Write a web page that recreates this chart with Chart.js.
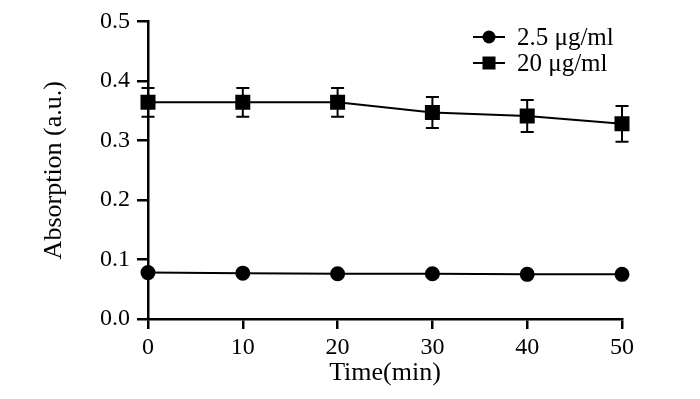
<!DOCTYPE html>
<html>
<head>
<meta charset="utf-8">
<script src="https://cdn.jsdelivr.net/npm/chart.js@4/dist/chart.umd.min.js"></script>
<style>
html,body{margin:0;padding:0;background:#fff;}
#wrap{width:700px;height:399px;position:relative;}
</style>
</head>
<body>
<div id="wrap"><canvas id="c" width="700" height="399"></canvas></div>
<script>
const times = [0, 10, 20, 30, 40, 50];
const seriesLabels = ['2.5 μg/ml', '20 μg/ml'];
const lowValues = [0.078, 0.077, 0.076, 0.076, 0.075, 0.075];
const highValues = [0.364, 0.364, 0.364, 0.347, 0.341, 0.328];
const highErrors = [0.024, 0.024, 0.024, 0.026, 0.027, 0.030];
const lowErrors = [0, 0, 0, 0, 0, 0];
const yTicks = [0.0, 0.1, 0.2, 0.3, 0.4, 0.5];
const xTicks = [0, 10, 20, 30, 40, 50];

const FONT = "'Liberation Serif', 'Times New Roman', serif";

const errorBarPlugin = {
  id: 'errorBars',
  afterDatasetsDraw(chart) {
    const ctx = chart.ctx;
    const xs = chart.scales.x, ys = chart.scales.y;
    chart.data.datasets.forEach(ds => {
      const errs = ds.errors;
      if (!errs) return;
      ctx.save();
      ctx.strokeStyle = '#000';
      ctx.lineWidth = 2;
      ds.data.forEach((pt, i) => {
        const e = errs[i];
        if (!e) return;
        const x = xs.getPixelForValue(pt.x);
        const yt = ys.getPixelForValue(pt.y + e);
        const yb = ys.getPixelForValue(pt.y - e);
        ctx.beginPath();
        ctx.moveTo(x, yt); ctx.lineTo(x, yb);
        ctx.moveTo(x - 6.5, yt); ctx.lineTo(x + 6.5, yt);
        ctx.moveTo(x - 6.5, yb); ctx.lineTo(x + 6.5, yb);
        ctx.stroke();
      });
      ctx.restore();
    });
  }
};

const legendPlugin = {
  id: 'customLegend',
  afterDraw(chart) {
    const ctx = chart.ctx;
    const rows = [37, 63];
    chart.data.datasets.forEach((ds, i) => {
      const y = rows[i];
      ctx.save();
      ctx.strokeStyle = '#000';
      ctx.lineWidth = 2;
      ctx.beginPath();
      ctx.moveTo(473, y); ctx.lineTo(505, y);
      ctx.stroke();
      ctx.fillStyle = '#000';
      if (ds.pointStyle === 'rect') {
        ctx.fillRect(489 - 6.5, y - 6.5, 13, 13);
      } else {
        ctx.beginPath();
        ctx.arc(489, y, 6.5, 0, Math.PI * 2);
        ctx.fill();
      }
      ctx.font = '25px ' + FONT;
      ctx.textBaseline = 'middle';
      ctx.textAlign = 'left';
      ctx.fillText(ds.label, 517, y + 1);
      ctx.restore();
    });
  }
};

new Chart(document.getElementById('c'), {
  type: 'line',
  data: {
    datasets: [
      {
        label: seriesLabels[0],
        data: times.map((t, i) => ({x: t, y: lowValues[i]})),
        errors: lowErrors,
        borderColor: '#000',
        backgroundColor: '#000',
        borderWidth: 2,
        pointStyle: 'circle',
        pointRadius: 6.5,
        pointHoverRadius: 6.5,
        tension: 0,
        clip: false
      },
      {
        label: seriesLabels[1],
        data: times.map((t, i) => ({x: t, y: highValues[i]})),
        errors: highErrors,
        borderColor: '#000',
        backgroundColor: '#000',
        borderWidth: 2,
        pointStyle: 'rect',
        pointRadius: 9.2,
        pointHoverRadius: 9.2,
        tension: 0,
        clip: false
      }
    ]
  },
  options: {
    responsive: false,
    animation: false,
    events: [],
    layout: {padding: {left: 0, top: 18, right: 78, bottom: 0}},
    plugins: {legend: {display: false}, tooltip: {enabled: false}},
    scales: {
      x: {
        type: 'linear',
        min: 0, max: 50,
        afterFit(s) { s.height = 80; },
        afterBuildTicks(s) { s.ticks = xTicks.map(v => ({value: v})); },
        ticks: {color: '#000', font: {family: FONT, size: 24}, padding: 4, maxRotation: 0},
        grid: {drawOnChartArea: false, drawTicks: true, tickLength: 10, color: '#000', lineWidth: 2.5},
        border: {color: '#000', width: 2.5},
        title: {display: true, text: 'Time(min)', color: '#000', font: {family: FONT, size: 26}, padding: {top: 0, bottom: 10}}
      },
      y: {
        type: 'linear',
        min: 0, max: 0.5,
        afterFit(s) { s.width = 148; },
        afterBuildTicks(s) { s.ticks = yTicks.map(v => ({value: v})); },
        ticks: {color: '#000', font: {family: FONT, size: 24}, padding: 7, callback: v => v.toFixed(1)},
        grid: {drawOnChartArea: false, drawTicks: true, tickLength: 11, color: '#000', lineWidth: 2.5},
        border: {color: '#000', width: 2.5},
        title: {display: true, text: 'Absorption (a.u.)', color: '#000', font: {family: FONT, size: 26}, padding: {top: 39, bottom: 0}}
      }
    }
  },
  plugins: [errorBarPlugin, legendPlugin]
});
</script>
</body>
</html>
